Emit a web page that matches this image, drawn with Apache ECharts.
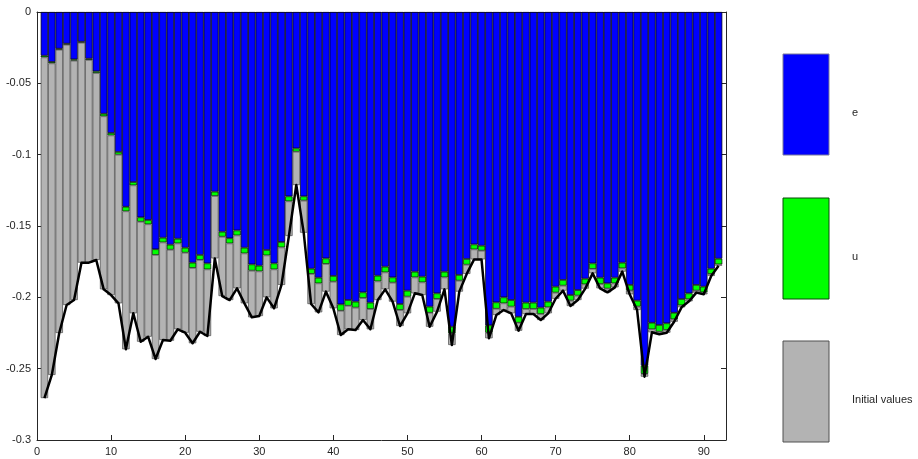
<!DOCTYPE html>
<html>
<head>
<meta charset="utf-8">
<script src="https://cdn.jsdelivr.net/npm/echarts@6/dist/echarts.min.js"></script>
<style>
  html, body { margin: 0; padding: 0; background: #fff; }
  #chart { width: 918px; height: 459px; }
</style>
</head>
<body>
<div id="chart"></div>
<script>
// Period index 1..92
const periods = Array.from({ length: 92 }, (_, i) => i + 1);

// Contribution of e (blue, top segment)
const eValues = [
  -0.0306, -0.0350, -0.0257, -0.0222, -0.0332, -0.0208, -0.0327, -0.0416, -0.0713, -0.0848,
  -0.0981, -0.1365, -0.1192, -0.1439, -0.1458, -0.1663, -0.1582, -0.1631, -0.1589, -0.1652,
  -0.1757, -0.1703, -0.1762, -0.1259, -0.1540, -0.1586, -0.1531, -0.1652, -0.1769, -0.1778,
  -0.1668, -0.1762, -0.1612, -0.1292, -0.0956, -0.1292, -0.1799, -0.1862, -0.1727, -0.1850,
  -0.2049, -0.2019, -0.2030, -0.1965, -0.2037, -0.1848, -0.1785, -0.1860, -0.2047, -0.1953,
  -0.1820, -0.1855, -0.2065, -0.1972, -0.1820, -0.2206, -0.1843, -0.1731, -0.1629, -0.1638,
  -0.2196, -0.2035, -0.2000, -0.2019, -0.2136, -0.2037, -0.2037, -0.2072, -0.2030, -0.1925,
  -0.1878, -0.1984, -0.1949, -0.1869, -0.1762, -0.1862, -0.1902, -0.1862, -0.1757, -0.1913,
  -0.2023, -0.2479, -0.2178, -0.2194, -0.2182, -0.2108, -0.2012, -0.1972, -0.1913, -0.1925,
  -0.1799, -0.1729
];

// Contribution of u (green, middle segment)
const uValues = [
  -0.0012, -0.0010, -0.0007, -0.0007, -0.0009, -0.0007, -0.0009, -0.0012, -0.0018, -0.0017,
  -0.0019, -0.0032, -0.0023, -0.0031, -0.0030, -0.0040, -0.0033, -0.0035, -0.0033, -0.0035,
  -0.0037, -0.0035, -0.0042, -0.0031, -0.0035, -0.0036, -0.0035, -0.0040, -0.0044, -0.0040,
  -0.0038, -0.0042, -0.0038, -0.0035, -0.0023, -0.0030, -0.0037, -0.0040, -0.0039, -0.0040,
  -0.0045, -0.0040, -0.0042, -0.0040, -0.0045, -0.0040, -0.0040, -0.0037, -0.0042, -0.0042,
  -0.0040, -0.0040, -0.0043, -0.0040, -0.0040, -0.0046, -0.0040, -0.0040, -0.0035, -0.0035,
  -0.0052, -0.0045, -0.0042, -0.0046, -0.0042, -0.0045, -0.0045, -0.0045, -0.0040, -0.0042,
  -0.0040, -0.0039, -0.0039, -0.0040, -0.0039, -0.0045, -0.0037, -0.0040, -0.0040, -0.0040,
  -0.0042, -0.0058, -0.0046, -0.0047, -0.0047, -0.0046, -0.0044, -0.0042, -0.0040, -0.0040,
  -0.0037, -0.0040
];

// Contribution of the initial values (grey, bottom segment)
const initValues = [
  -0.2388, -0.2184, -0.1986, -0.1825, -0.1678, -0.1542, -0.1421, -0.1310, -0.1213, -0.1119,
  -0.1042, -0.0967, -0.0897, -0.0841, -0.0788, -0.0729, -0.0684, -0.0638, -0.0602, -0.0561,
  -0.0528, -0.0503, -0.0467, -0.0437, -0.0416, -0.0397, -0.0371, -0.0350, -0.0327, -0.0313,
  -0.0294, -0.0273, -0.0263, -0.0243, -0.0234, -0.0225, -0.0211, -0.0203, -0.0194, -0.0187,
  -0.0170, -0.0165, -0.0157, -0.0154, -0.0142, -0.0131, -0.0119, -0.0133, -0.0112, -0.0117,
  -0.0112, -0.0089, -0.0098, -0.0088, -0.0084, -0.0082, -0.0077, -0.0065, -0.0070, -0.0061,
  -0.0039, -0.0044, -0.0047, -0.0047, -0.0056, -0.0035, -0.0035, -0.0042, -0.0042, -0.0043,
  -0.0035, -0.0038, -0.0031, -0.0030, -0.0031, -0.0030, -0.0026, -0.0028, -0.0023, -0.0026,
  -0.0024, -0.0019, -0.0021, -0.0018, -0.0019, -0.0017, -0.0014, -0.0014, -0.0014, -0.0014,
  -0.0014, -0.0009
];

// Axis ticks
const yTicks = [0, -0.05, -0.1, -0.15, -0.2, -0.25, -0.3];
const xTicks = [0, 10, 20, 30, 40, 50, 60, 70, 80, 90];
const xMax = 93;

// Legend entries
const legendNames = ['e', 'u', 'Initial values'];
const legendColors = ['#0000ff', '#00ff00', '#b3b3b3'];
const legendBorders = ['#7a7a9a', '#0a4a0a', '#505050'];

// The x axis is a category axis 0..93 with points on the ticks, so each
// period sits exactly at its integer position.
const xCats = Array.from({ length: xMax + 1 }, (_, i) => String(i));
function onAxis(values) {
  const out = xCats.map(() => '-');
  periods.forEach((p, i) => { out[p] = values[i]; });
  return out;
}

// The black line is the sum of the three components
const totals = periods.map((_, i) => eValues[i] + uValues[i] + initValues[i]);

const chart = echarts.init(document.getElementById('chart'), null, { renderer: 'canvas' });

const grid = { left: 37, right: 192, top: 12, bottom: 19 };
const plotWidth = 918 - grid.left - grid.right;
const barW = plotWidth / xMax;

const textColor = '#262626';
const fontFamily = '"Liberation Sans", Arial, Helvetica, sans-serif';

const axisLineStyle = { show: true, onZero: false, lineStyle: { color: textColor, width: 1 } };
const tickStyle = { color: textColor, width: 1 };

function barSeries(name, values, color, border) {
  return {
    name: name,
    type: 'bar',
    stack: 'total',
    barWidth: barW,
    data: onAxis(values),
    itemStyle: { color: color, borderColor: border, borderWidth: 0.7 },
    emphasis: { disabled: true },
    animation: false
  };
}

const legendGraphics = [];
const legendTops = [54, 198, 341];
legendNames.forEach((name, k) => {
  legendGraphics.push({
    type: 'rect',
    shape: { x: 783, y: legendTops[k], width: 46, height: 101 },
    style: { fill: legendColors[k], stroke: legendBorders[k], lineWidth: 1 }
  });
  legendGraphics.push({
    type: 'text',
    x: 852,
    y: legendTops[k] + 59,
    style: {
      text: name, fill: textColor, fontSize: 11, fontFamily: fontFamily,
      textAlign: 'left', textVerticalAlign: 'middle'
    }
  });
});

const xTickShown = (idx) => xTicks.indexOf(idx) >= 0;

chart.setOption({
  backgroundColor: '#ffffff',
  animation: false,
  grid: grid,
  xAxis: [
    {
      type: 'category', position: 'bottom', data: xCats, boundaryGap: false,
      axisLine: axisLineStyle,
      axisTick: { show: true, inside: true, length: 5, interval: xTickShown, lineStyle: tickStyle },
      axisLabel: {
        show: true, interval: xTickShown, color: textColor, fontSize: 11,
        fontFamily: fontFamily, margin: 6
      },
      splitLine: { show: false }
    },
    {
      type: 'category', position: 'top', data: xCats, boundaryGap: false,
      axisLine: axisLineStyle,
      axisTick: { show: true, inside: true, length: 5, interval: xTickShown, lineStyle: tickStyle },
      axisLabel: { show: false },
      splitLine: { show: false }
    }
  ],
  yAxis: [
    {
      type: 'value', position: 'left', min: -0.3, max: 0, interval: 0.05,
      axisLine: axisLineStyle,
      axisTick: { show: true, inside: true, length: 5, lineStyle: tickStyle },
      axisLabel: {
        show: true, color: textColor, fontSize: 11, fontFamily: fontFamily, margin: 6,
        formatter: v => {
          const r = Math.round(v * 100) / 100;
          const hit = yTicks.find(t => Math.abs(t - r) < 1e-9);
          return hit === undefined ? '' : String(hit);
        }
      },
      splitLine: { show: false }
    },
    {
      type: 'value', position: 'right', min: -0.3, max: 0, interval: 0.05,
      axisLine: axisLineStyle,
      axisTick: { show: true, inside: true, length: 5, lineStyle: tickStyle },
      axisLabel: { show: false },
      splitLine: { show: false }
    }
  ],
  series: [
    barSeries('e', eValues, legendColors[0], '#000000'),
    barSeries('u', uValues, legendColors[1], '#000000'),
    barSeries('Initial values', initValues, legendColors[2], '#4a4a4a'),
    {
      name: 'total',
      type: 'line',
      data: onAxis(totals),
      showSymbol: false,
      symbol: 'none',
      connectNulls: false,
      lineStyle: { color: '#000000', width: 2.5, join: 'round' },
      z: 5,
      animation: false
    }
  ],
  graphic: legendGraphics
});
</script>
</body>
</html>
